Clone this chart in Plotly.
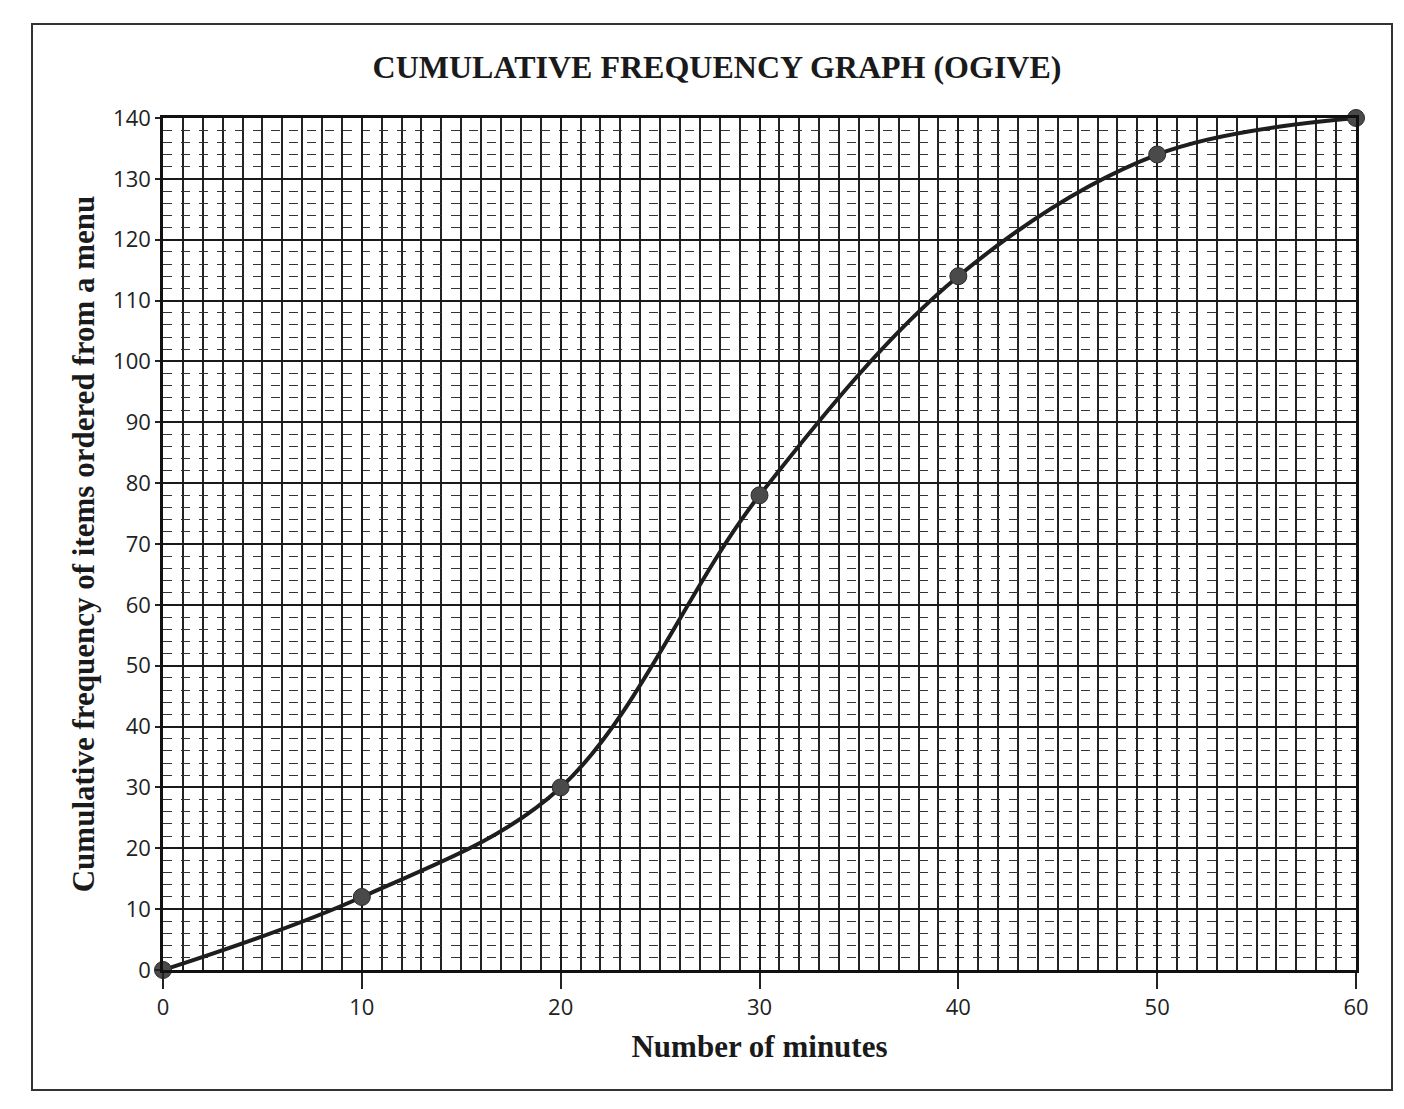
import plotly.graph_objects as go

# Data
minutes = [0, 10, 20, 30, 40, 50, 60]
cum_freq = [0, 12, 30, 78, 114, 134, 140]

x_ticks = [0, 10, 20, 30, 40, 50, 60]
y_ticks = [0, 10, 20, 30, 40, 50, 60, 70, 80, 90, 100, 110, 120, 130, 140]

W, H = 1404, 1109
L, R, T, B = 155, 56, 110, 147

fig = go.Figure()
fig.add_trace(go.Scatter(
    x=minutes, y=cum_freq, mode="lines+markers",
    line=dict(color="#1e1e1e", width=4, shape="spline", smoothing=1.0),
    marker=dict(color="#4a4a4a", size=17, line=dict(color="#2a2a2a", width=1)),
    showlegend=False, hoverinfo="x+y", cliponaxis=False,
))

serif = "Liberation Serif, Times New Roman, serif"
sans = "Open Sans, Liberation Sans, sans-serif"

fig.update_layout(
    width=W, height=H,
    margin=dict(l=L, r=R, t=T, b=B),
    paper_bgcolor="white", plot_bgcolor="white",
    title=dict(text="<b>CUMULATIVE FREQUENCY GRAPH (OGIVE)</b>",
               font=dict(family=serif, size=32, color="#1a1a1a"),
               x=0.505, xanchor="center", y=0.947, yanchor="middle"),
    xaxis=dict(
        range=[0, 60], tickvals=x_ticks, ticktext=[str(v) for v in x_ticks],
        showgrid=True, gridcolor="#1a1a1a", gridwidth=2.2,
        minor=dict(dtick=1, tick0=0, showgrid=True, gridcolor="#222", gridwidth=1.5),
        showline=True, linecolor="#111", linewidth=2.5, mirror=True,
        ticks="outside", ticklen=16, tickwidth=2, tickcolor="#222",
        tickfont=dict(family=sans, size=22, color="#222"),
        zeroline=False,
        title=dict(text="<b>Number of minutes</b>", font=dict(family=serif, size=31, color="#1a1a1a"),
                   standoff=16),
    ),
    yaxis=dict(
        range=[0, 140], tickvals=y_ticks, ticktext=[str(v) for v in y_ticks],
        showgrid=True, gridcolor="#1a1a1a", gridwidth=2.2,
        minor=dict(dtick=2, tick0=0, showgrid=True, gridcolor="#333", gridwidth=1.4, griddash="dash"),
        showline=True, linecolor="#111", linewidth=2.5, mirror=True,
        ticks="outside", ticklen=5, tickwidth=2, tickcolor="#222",
        tickfont=dict(family=sans, size=22, color="#222"),
        zeroline=False,
        title=dict(text="<b>Cumulative frequency of items ordered from a menu</b>",
                   font=dict(family=serif, size=31, color="#1a1a1a"), standoff=10),
    ),
)

pw = W - L - R
ph = H - T - B
def px_x(p):
    return (p - L) / pw
def px_y(p):
    return (H - B - p) / ph

fig.add_shape(type="rect", xref="paper", yref="paper",
              x0=px_x(24), x1=px_x(1384), y0=px_y(1082), y1=px_y(16),
              line=dict(color="#333", width=2), fillcolor="rgba(0,0,0,0)", layer="below")

fig.write_html("out.html")
